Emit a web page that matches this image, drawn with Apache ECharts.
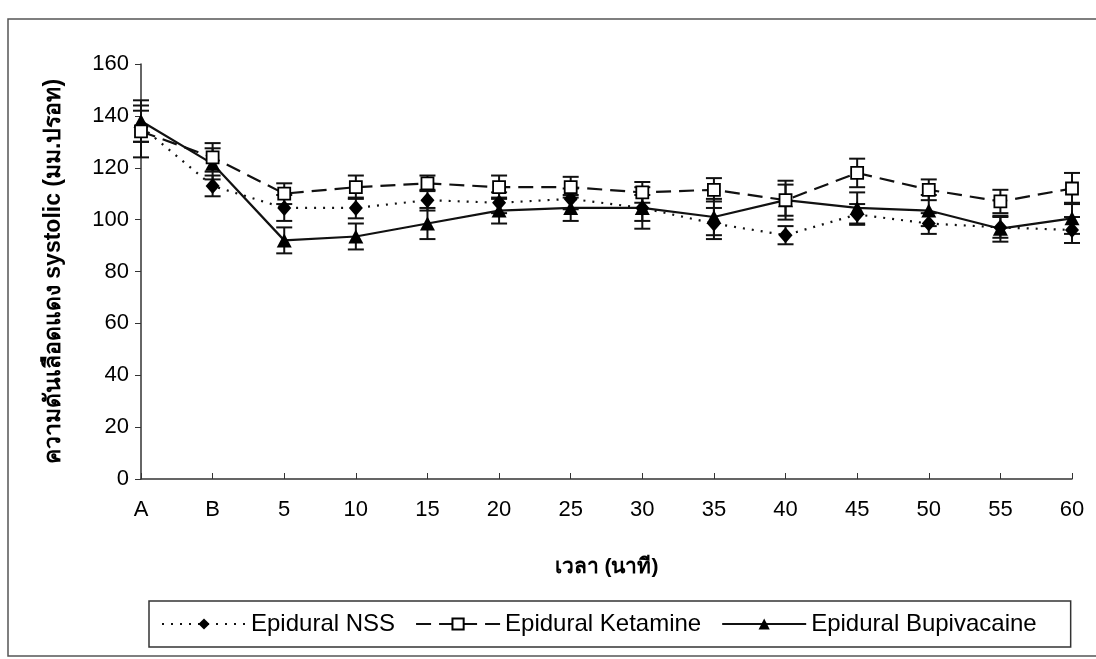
<!DOCTYPE html>
<html>
<head>
<meta charset="utf-8">
<script src="https://cdn.jsdelivr.net/npm/echarts@6/dist/echarts.min.js"></script>
<style>
  html, body { margin: 0; padding: 0; background: #fff; }
  #chart { width: 1096px; height: 659px; }
</style>
</head>
<body>
<div id="chart"></div>
<script>
// time points
var categories = ['A', 'B', '5', '10', '15', '20', '25', '30', '35', '40', '45', '50', '55', '60'];

// mean systolic pressure per group
var nssMean = [136, 113, 104.5, 104.5, 107.5, 106.5, 108, 104.5, 98.5, 94, 102, 98.5, 97, 96];
var ketMean = [134, 124, 110, 112.5, 114, 112.5, 112.5, 110.5, 111.5, 107.5, 118, 111.5, 107, 112];
var bupMean = [138, 121.5, 92, 93.5, 98.5, 103.5, 104.5, 104.5, 101, 107.5, 104.5, 103.5, 96.5, 100.5];

// error bar half-lengths (SD)
var nssSd = [6, 4, 5, 4, 4, 4, 4, 5, 6, 3.5, 4, 4, 4, 5];
var ketSd = [10, 5.5, 4, 4.5, 3, 4.5, 4, 4, 4.5, 7.5, 5.5, 4, 4.5, 6];
var bupSd = [8, 6, 5, 5, 6, 5, 5, 8, 7, 6, 6, 6, 5, 6];

var yTicks = { min: 0, max: 160, interval: 20 };

var font = 'Liberation Sans, Arial, Noto Sans, sans-serif';

function errData(mean, sd) {
    return mean.map(function (m, i) { return [i, m - sd[i], m + sd[i]]; });
}

function errSeries(name, mean, sd) {
    return {
        name: name + ' SD',
        type: 'custom',
        silent: true,
        z: 1,
        renderItem: function (params, api) {
            var lo = api.coord([api.value(0), api.value(1)]);
            var hi = api.coord([api.value(0), api.value(2)]);
            var w = 8;
            var st = { stroke: '#111', lineWidth: 2 };
            return {
                type: 'group',
                children: [
                    { type: 'line', shape: { x1: lo[0], y1: lo[1], x2: hi[0], y2: hi[1] }, style: st },
                    { type: 'line', shape: { x1: lo[0] - w, y1: lo[1], x2: lo[0] + w, y2: lo[1] }, style: st },
                    { type: 'line', shape: { x1: hi[0] - w, y1: hi[1], x2: hi[0] + w, y2: hi[1] }, style: st }
                ]
            };
        },
        encode: { x: 0, y: [1, 2] },
        data: errData(mean, sd)
    };
}

var chart = echarts.init(document.getElementById('chart'));

var option = {
    backgroundColor: '#fff',
    animation: false,
    textStyle: { fontFamily: font, color: '#000' },
    graphic: [{
        type: 'rect',
        shape: { x: 8, y: 19, width: 1100, height: 637 },
        style: { fill: 'none', stroke: '#555', lineWidth: 1.5 },
        silent: true
    }],
    grid: { left: 141, right: 24, top: 64, bottom: 180 },
    legend: {
        data: ['Epidural NSS', 'Epidural Ketamine', 'Epidural Bupivacaine'],
        left: 149,
        top: 601,
        padding: [11, 34, 11, 12],
        itemGap: 20,
        itemWidth: 84,
        itemHeight: 14,
        borderColor: '#333',
        borderWidth: 1.5,
        borderRadius: 0,
        textStyle: { fontSize: 24, color: '#000', fontFamily: font }
    },
    xAxis: {
        type: 'category',
        data: categories,
        boundaryGap: false,
        name: 'เวลา (นาที)',
        nameLocation: 'middle',
        nameGap: 78,
        nameTextStyle: { fontSize: 21, fontWeight: 'bold', color: '#000' },
        axisLine: { lineStyle: { color: '#333', width: 1.5 } },
        axisTick: { inside: true, length: 6, lineStyle: { color: '#333' } },
        axisLabel: { fontSize: 22, color: '#000', margin: 20 },
        splitLine: { show: false }
    },
    yAxis: {
        type: 'value',
        min: yTicks.min,
        max: yTicks.max,
        interval: yTicks.interval,
        name: 'ความดันเลือดแดง systolic (มม.ปรอท)',
        nameLocation: 'middle',
        nameGap: 76,
        nameTextStyle: { fontSize: 23, fontWeight: 'bold', color: '#000' },
        axisLine: { show: true, lineStyle: { color: '#333', width: 1.5 } },
        axisTick: { show: true, length: 6, lineStyle: { color: '#333' } },
        axisLabel: { fontSize: 22, color: '#000', margin: 12 },
        splitLine: { show: false }
    },
    series: [
        errSeries('Epidural NSS', nssMean, nssSd),
        errSeries('Epidural Ketamine', ketMean, ketSd),
        errSeries('Epidural Bupivacaine', bupMean, bupSd),
        {
            name: 'Epidural NSS',
            type: 'line',
            z: 3,
            data: nssMean,
            symbol: 'diamond',
            symbolSize: [14, 16],
            itemStyle: { color: '#000' },
            lineStyle: { color: '#111', width: 2.2, type: [2, 7] }
        },
        {
            name: 'Epidural Ketamine',
            type: 'line',
            z: 4,
            data: ketMean,
            symbol: 'rect',
            symbolSize: 12,
            itemStyle: { color: '#fff', borderColor: '#000', borderWidth: 1.8 },
            lineStyle: { color: '#111', width: 2.2, type: [15, 8] }
        },
        {
            name: 'Epidural Bupivacaine',
            type: 'line',
            z: 3,
            data: bupMean,
            symbol: 'triangle',
            symbolSize: [15, 14],
            itemStyle: { color: '#000' },
            lineStyle: { color: '#111', width: 2.2, type: 'solid' }
        }
    ]
};

chart.setOption(option);
</script>
</body>
</html>
